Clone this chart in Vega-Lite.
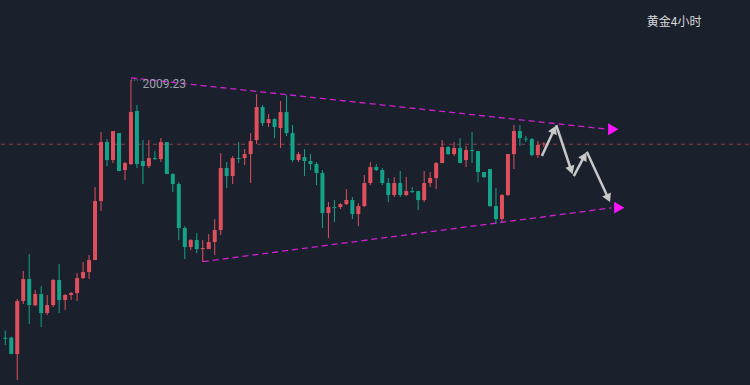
{
  "$schema": "https://vega.github.io/schema/vega-lite/v6.json",
  "width": 750,
  "height": 385,
  "autosize": {"type": "fit", "contains": "padding"},
  "padding": 0,
  "background": "#1b202d",
  "config": {"view": {"stroke": null}, "axis": {"disable": true}, "scale": {"continuousPadding": 0}},
  "datasets": {
    "candles": [
      {"i":0,"o":1880.4,"c":1879.9,"h":1883.9,"l":1876.7},
      {"i":1,"o":1880.4,"c":1872.2,"h":1880.9,"l":1872.2},
      {"i":2,"o":1872.2,"c":1898.7,"h":1899.7,"l":1859.2},
      {"i":3,"o":1898.7,"c":1909.7,"h":1913.7,"l":1897.2},
      {"i":4,"o":1909.7,"c":1896.7,"h":1922.2,"l":1887.2},
      {"i":5,"o":1896.6,"c":1902.2,"h":1904.2,"l":1896.2},
      {"i":6,"o":1902.2,"c":1892.7,"h":1906.2,"l":1885.7},
      {"i":7,"o":1892.7,"c":1896.7,"h":1901.7,"l":1891.7},
      {"i":8,"o":1896.7,"c":1909.2,"h":1909.7,"l":1895.7},
      {"i":9,"o":1909.2,"c":1899.2,"h":1917.2,"l":1892.7},
      {"i":10,"o":1899.2,"c":1901.7,"h":1902.2,"l":1894.2},
      {"i":11,"o":1901.7,"c":1902.7,"h":1903.2,"l":1899.2},
      {"i":12,"o":1902.7,"c":1910.2,"h":1912.7,"l":1898.7},
      {"i":13,"o":1910.2,"c":1913.2,"h":1918.2,"l":1909.7},
      {"i":14,"o":1913.2,"c":1919.2,"h":1921.7,"l":1909.7},
      {"i":15,"o":1919.2,"c":1948.7,"h":1955.7,"l":1919.2},
      {"i":16,"o":1948.7,"c":1978.2,"h":1983.2,"l":1943.7},
      {"i":17,"o":1978.2,"c":1969.2,"h":1979.7,"l":1966.2},
      {"i":18,"o":1969.2,"c":1983.7,"h":1983.7,"l":1967.7},
      {"i":19,"o":1982.7,"c":1963.7,"h":1982.7,"l":1963.7},
      {"i":20,"o":1964.2,"c":1967.7,"h":1968.2,"l":1959.2},
      {"i":21,"o":1967.2,"c":1993.2,"h":2009.23,"l":1966.7},
      {"i":22,"o":1993.7,"c":1967.2,"h":1996.7,"l":1965.2},
      {"i":23,"o":1968.7,"c":1966.2,"h":1979.2,"l":1957.2},
      {"i":24,"o":1966.2,"c":1970.2,"h":1979.2,"l":1965.2},
      {"i":25,"o":1970.2,"c":1969.7,"h":1973.7,"l":1969.2},
      {"i":26,"o":1969.7,"c":1978.2,"h":1980.2,"l":1968.2},
      {"i":27,"o":1978.2,"c":1962.2,"h":1978.2,"l":1962.2},
      {"i":28,"o":1962.2,"c":1957.2,"h":1962.7,"l":1953.2},
      {"i":29,"o":1957.2,"c":1935.2,"h":1958.2,"l":1929.2},
      {"i":30,"o":1935.2,"c":1925.7,"h":1936.2,"l":1919.7},
      {"i":31,"o":1925.7,"c":1929.2,"h":1929.7,"l":1924.2},
      {"i":32,"o":1929.2,"c":1924.7,"h":1932.7,"l":1922.7},
      {"i":33,"o":1924.7,"c":1925.2,"h":1929.2,"l":1918.2},
      {"i":34,"o":1924.7,"c":1928.2,"h":1932.2,"l":1924.7},
      {"i":35,"o":1928.2,"c":1934.2,"h":1939.7,"l":1921.7},
      {"i":36,"o":1934.2,"c":1965.2,"h":1972.7,"l":1931.7},
      {"i":37,"o":1965.2,"c":1961.2,"h":1968.2,"l":1955.2},
      {"i":38,"o":1961.2,"c":1970.2,"h":1971.2,"l":1957.2},
      {"i":39,"o":1970.2,"c":1969.7,"h":1978.2,"l":1967.7},
      {"i":40,"o":1970.2,"c":1972.2,"h":1974.7,"l":1966.7},
      {"i":41,"o":1972.2,"c":1978.7,"h":1982.7,"l":1957.7},
      {"i":42,"o":1979.2,"c":1995.7,"h":2002.2,"l":1977.2},
      {"i":43,"o":1995.7,"c":1987.7,"h":1996.7,"l":1986.2},
      {"i":44,"o":1987.7,"c":1989.7,"h":1992.2,"l":1985.7},
      {"i":45,"o":1989.7,"c":1985.7,"h":1990.2,"l":1980.2},
      {"i":46,"o":1985.2,"c":1993.2,"h":1998.7,"l":1975.2},
      {"i":47,"o":1993.2,"c":1982.7,"h":2001.7,"l":1981.2},
      {"i":48,"o":1982.7,"c":1969.2,"h":1986.7,"l":1968.2},
      {"i":49,"o":1969.2,"c":1972.2,"h":1973.2,"l":1968.2},
      {"i":50,"o":1970.7,"c":1968.7,"h":1974.7,"l":1961.2},
      {"i":51,"o":1968.7,"c":1967.2,"h":1972.2,"l":1964.2},
      {"i":52,"o":1967.2,"c":1962.7,"h":1968.2,"l":1956.7},
      {"i":53,"o":1962.7,"c":1942.7,"h":1964.2,"l":1935.2},
      {"i":54,"o":1942.7,"c":1945.7,"h":1948.2,"l":1930.2},
      {"i":55,"o":1945.7,"c":1945.3,"h":1949.2,"l":1938.2},
      {"i":56,"o":1945.7,"c":1947.2,"h":1947.7,"l":1944.7},
      {"i":57,"o":1947.2,"c":1949.2,"h":1954.7,"l":1946.7},
      {"i":58,"o":1949.2,"c":1942.2,"h":1950.7,"l":1939.7},
      {"i":59,"o":1942.2,"c":1946.2,"h":1947.7,"l":1936.2},
      {"i":60,"o":1946.2,"c":1957.7,"h":1961.7,"l":1945.7},
      {"i":61,"o":1957.7,"c":1965.7,"h":1968.2,"l":1956.7},
      {"i":62,"o":1965.7,"c":1964.2,"h":1967.2,"l":1963.7},
      {"i":63,"o":1964.2,"c":1957.7,"h":1965.2,"l":1956.7},
      {"i":64,"o":1957.7,"c":1951.7,"h":1960.2,"l":1948.2},
      {"i":65,"o":1951.7,"c":1957.7,"h":1960.7,"l":1950.7},
      {"i":66,"o":1957.7,"c":1951.7,"h":1963.7,"l":1950.7},
      {"i":67,"o":1951.7,"c":1953.7,"h":1960.7,"l":1951.2},
      {"i":68,"o":1953.7,"c":1953.2,"h":1955.7,"l":1952.7},
      {"i":69,"o":1953.7,"c":1949.2,"h":1953.7,"l":1944.2},
      {"i":70,"o":1949.2,"c":1957.7,"h":1963.7,"l":1948.2},
      {"i":71,"o":1957.7,"c":1960.2,"h":1963.2,"l":1955.7},
      {"i":72,"o":1960.2,"c":1967.7,"h":1968.2,"l":1954.7},
      {"i":73,"o":1967.7,"c":1975.7,"h":1979.2,"l":1967.7},
      {"i":74,"o":1975.7,"c":1972.2,"h":1976.2,"l":1971.7},
      {"i":75,"o":1972.2,"c":1975.2,"h":1978.2,"l":1971.2},
      {"i":76,"o":1975.2,"c":1967.7,"h":1980.2,"l":1967.7},
      {"i":77,"o":1969.2,"c":1974.2,"h":1976.2,"l":1965.7},
      {"i":78,"o":1974.2,"c":1973.7,"h":1983.2,"l":1967.7},
      {"i":79,"o":1973.7,"c":1963.2,"h":1973.7,"l":1958.2},
      {"i":80,"o":1963.2,"c":1960.7,"h":1963.2,"l":1960.2},
      {"i":81,"o":1964.7,"c":1946.2,"h":1964.7,"l":1945.7},
      {"i":82,"o":1946.2,"c":1939.7,"h":1955.2,"l":1937.2},
      {"i":83,"o":1939.7,"c":1951.7,"h":1952.2,"l":1938.2},
      {"i":84,"o":1951.7,"c":1972.2,"h":1972.2,"l":1951.2},
      {"i":85,"o":1972.2,"c":1983.7,"h":1986.7,"l":1964.7},
      {"i":86,"o":1983.7,"c":1980.2,"h":1986.7,"l":1976.2},
      {"i":87,"o":1979.9,"c":1979.5,"h":1981.2,"l":1978.2},
      {"i":88,"o":1979.7,"c":1971.7,"h":1980.2,"l":1971.2},
      {"i":89,"o":1971.7,"c":1976.7,"h":1978.7,"l":1970.2},
      {"i":90,"o":1977.0,"c":1977.4,"h":1978.2,"l":1975.7}
    ],
    "trend": [
      {"line":"upper","i":21,"p":2010.3},
      {"line":"upper","i":100.1,"p":1984.8},
      {"line":"lower","i":33,"p":1918.4},
      {"line":"lower","i":101.3,"p":1945.3}
    ],
    "ends": [
      {"line":"upper","i":101.6,"p":1984.6},
      {"line":"lower","i":102.6,"p":1945.4}
    ],
    "arrows": [
      {"a":1,"i":89.67,"p":1971.2,"i2":91.72,"p2":1984.5},
      {"a":2,"i":92.07,"p":1986.7,"i2":94.57,"p2":1964.1},
      {"a":3,"i":95.0,"p":1961.2,"i2":96.77,"p2":1971.2},
      {"a":4,"i":97.17,"p":1973.4,"i2":100.77,"p2":1950.1}
    ],
    "labels": [
      {"kind":"high","i":21,"p":2009.23,"text":"2009.23"},
      {"kind":"title","i":111.78,"p":2038.2,"text":"黄金4小时"}
    ]
  },
  "encoding": {
    "x": {"type": "quantitative", "scale": {"domain": [-0.717, 124.283], "nice": false, "zero": false, "padding": 0}, "axis": null},
    "y": {"type": "quantitative", "scale": {"domain": [1856.73, 2049.23], "nice": false, "zero": false, "padding": 0}, "axis": null}
  },
  "layer": [
    {
      "data": {"values": [{"level": 1977.1}]},
      "mark": {"type": "rule", "color": "#8c3c48", "strokeWidth": 1, "strokeDash": [4, 4]},
      "encoding": {"y": {"field": "level", "type": "quantitative"}}
    },
    {
      "data": {"name": "candles"},
      "mark": {"type": "rule", "strokeWidth": 1},
      "encoding": {
        "x": {"field": "i", "type": "quantitative"},
        "y": {"field": "l", "type": "quantitative"},
        "y2": {"field": "h"},
        "color": {"condition": {"test": "datum.c >= datum.o", "value": "#e0505c"}, "value": "#14a389"}
      }
    },
    {
      "data": {"name": "candles"},
      "mark": {"type": "bar", "width": 4},
      "encoding": {
        "x": {"field": "i", "type": "quantitative"},
        "y": {"field": "o", "type": "quantitative"},
        "y2": {"field": "c"},
        "color": {"condition": {"test": "datum.c >= datum.o", "value": "#e0505c"}, "value": "#14a389"}
      }
    },
    {
      "data": {"name": "trend"},
      "mark": {"type": "line", "color": "#d41ed4", "strokeWidth": 1.3, "strokeDash": [6, 4]},
      "encoding": {
        "x": {"field": "i", "type": "quantitative"},
        "y": {"field": "p", "type": "quantitative"},
        "detail": {"field": "line"}
      }
    },
    {
      "data": {"name": "ends"},
      "mark": {"type": "point", "shape": "triangle-right", "filled": true, "color": "#ff14ff", "opacity": 1, "size": 140},
      "encoding": {
        "x": {"field": "i", "type": "quantitative"},
        "y": {"field": "p", "type": "quantitative"}
      }
    },
    {
      "data": {"name": "arrows"},
      "mark": {"type": "rule", "color": "#c8c8c8", "strokeWidth": 2.5},
      "encoding": {
        "x": {"field": "i", "type": "quantitative"},
        "y": {"field": "p", "type": "quantitative"},
        "x2": {"field": "i2"},
        "y2": {"field": "p2"}
      }
    },
    {
      "data": {"name": "arrows"},
      "transform": [{"filter": "datum.a == 1"}],
      "mark": {"type": "point", "shape": "triangle-up", "filled": true, "color": "#c8c8c8", "opacity": 1, "size": 90, "angle": 25},
      "encoding": {"x": {"field": "i2", "type": "quantitative"}, "y": {"field": "p2", "type": "quantitative"}}
    },
    {
      "data": {"name": "arrows"},
      "transform": [{"filter": "datum.a == 2"}],
      "mark": {"type": "point", "shape": "triangle-up", "filled": true, "color": "#c8c8c8", "opacity": 1, "size": 90, "angle": 161.6},
      "encoding": {"x": {"field": "i2", "type": "quantitative"}, "y": {"field": "p2", "type": "quantitative"}}
    },
    {
      "data": {"name": "arrows"},
      "transform": [{"filter": "datum.a == 3"}],
      "mark": {"type": "point", "shape": "triangle-up", "filled": true, "color": "#c8c8c8", "opacity": 1, "size": 90, "angle": 28},
      "encoding": {"x": {"field": "i2", "type": "quantitative"}, "y": {"field": "p2", "type": "quantitative"}}
    },
    {
      "data": {"name": "arrows"},
      "transform": [{"filter": "datum.a == 4"}],
      "mark": {"type": "point", "shape": "triangle-up", "filled": true, "color": "#c8c8c8", "opacity": 1, "size": 90, "angle": 155},
      "encoding": {"x": {"field": "i2", "type": "quantitative"}, "y": {"field": "p2", "type": "quantitative"}}
    },
    {
      "data": {"name": "labels"},
      "transform": [{"filter": "datum.kind == 'high'"}],
      "mark": {"type": "rule", "color": "#9aa0ab", "strokeWidth": 1, "strokeDash": [1, 2]},
      "encoding": {"x": {"field": "i", "type": "quantitative"}, "x2": {"datum": 22.6}, "y": {"field": "p", "type": "quantitative"}}
    },
    {
      "data": {"name": "labels"},
      "transform": [{"filter": "datum.kind == 'high'"}],
      "mark": {"type": "text", "align": "left", "baseline": "middle", "dx": 11.5, "dy": 4, "color": "#9ca1ac", "fontSize": 12, "font": "Roboto"},
      "encoding": {"x": {"field": "i", "type": "quantitative"}, "y": {"field": "p", "type": "quantitative"}, "text": {"field": "text"}}
    },
    {
      "data": {"name": "labels"},
      "transform": [{"filter": "datum.kind == 'title'"}],
      "mark": {"type": "text", "align": "center", "baseline": "middle", "color": "#d8d8d8", "fontSize": 12, "font": "Noto Sans CJK SC"},
      "encoding": {"x": {"field": "i", "type": "quantitative"}, "y": {"field": "p", "type": "quantitative"}, "text": {"field": "text"}}
    }
  ]
}
